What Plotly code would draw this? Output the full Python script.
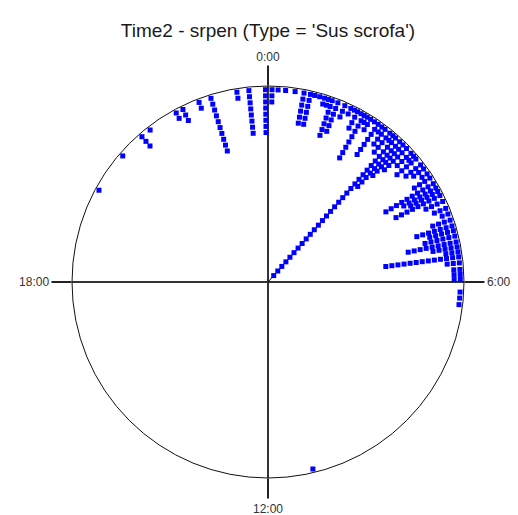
import plotly.graph_objects as go

# clock time (hours) of each dot stack and how many observations fall in it
hours = [11.1, 19.9, 20.73, 21.27, 21.48, 22.1, 22.25, 22.6, 22.85, 23.38, 23.62, 23.95,
         0.08, 0.2, 0.35, 0.54, 0.72, 0.85, 0.94, 1.04, 1.14, 1.22, 1.3, 1.42, 1.57, 1.7,
         1.78, 1.85, 1.93, 2.0, 2.07, 2.15, 2.24, 2.33, 2.42, 2.5, 2.62, 2.7, 2.77, 2.88,
         2.97, 3.07, 3.2, 3.28, 3.35, 3.5, 3.6, 3.72, 3.82, 3.95, 4.05, 4.13, 4.22, 4.35,
         4.5, 4.62, 4.75, 4.87, 4.97, 5.08, 5.2, 5.3, 5.4, 5.5, 5.62, 5.75, 5.85, 5.95,
         6.2, 6.32, 6.45]
counts = [1, 1, 1, 3, 1, 2, 3, 2, 10, 2, 8, 8,
          3, 1, 1, 1, 6, 6, 1, 1, 2, 2, 7, 6, 3, 2,
          1, 4, 1, 9, 2, 3, 1, 7, 2, 4, 5, 2, 31, 11,
          8, 6, 4, 2, 5, 4, 3, 2, 4, 10, 7, 6, 9, 4,
          3, 2, 4, 7, 5, 6, 9, 5, 3, 13, 3, 2, 2, 2,
          1, 1, 1]

mean_hour = 2.77
ci_halfwidth = 0.12  # hours

tick_hours = [0, 6, 12, 18]
tick_labels = ["0:00", "6:00", "12:00", "18:00"]

title = "Time2 - srpen (Type = 'Sus scrofa')"

R = 32  # outer circle, one unit per stacked dot

# stack dots inward from the rim
dot_r, dot_theta = [], []
for h, n in zip(hours, counts):
    for k in range(n):
        dot_r.append(R - 0.6 - k)
        dot_theta.append(h * 15)

fig = go.Figure()

# mean vector
fig.add_trace(go.Scatterpolar(r=[0, R], theta=[mean_hour * 15] * 2, mode="lines",
                              line=dict(color="black", width=1), hoverinfo="skip"))

fig.add_trace(go.Scatterpolar(r=dot_r, theta=dot_theta, mode="markers",
                              marker=dict(symbol="square", size=5, color="#0000ff",
                                          line=dict(width=0))))

# confidence interval marks at the rim
for h in (mean_hour - ci_halfwidth, mean_hour + ci_halfwidth):
    fig.add_trace(go.Scatterpolar(r=[R - 0.2, R + 0.9], theta=[h * 15] * 2, mode="lines",
                                  line=dict(color="black", width=1), cliponaxis=False,
                                  hoverinfo="skip"))
fig.add_trace(go.Scatterpolar(r=[R + 0.9, R + 0.9],
                              theta=[(mean_hour - ci_halfwidth) * 15, (mean_hour + ci_halfwidth) * 15],
                              mode="lines", line=dict(color="black", width=1), cliponaxis=False,
                              hoverinfo="skip"))

W, H = 518, 515

fig.update_layout(
    width=W, height=H,
    margin=dict(l=0, r=0, t=0, b=0),
    paper_bgcolor="white",
    showlegend=False,
    title=dict(text=title, x=268 / W, y=1 - 30 / H,
               xanchor="center", yanchor="middle",
               font=dict(family="Liberation Sans, Arial", size=19, color="#1a1a1a")),
    polar=dict(
        domain=dict(x=[72 / W, 464 / W], y=[1 - 478 / H, 1 - 86 / H]),
        bgcolor="white",
        radialaxis=dict(range=[0, R], visible=False),
        angularaxis=dict(
            rotation=90, direction="clockwise",
            tickvals=[h * 15 for h in tick_hours], ticktext=tick_labels,
            ticks="outside", ticklen=20, tickwidth=1.5, tickcolor="#222",
            showline=True, linecolor="#111", linewidth=1,
            showgrid=True, gridcolor="#333", gridwidth=1.5,
            tickfont=dict(family="Liberation Sans, Arial", size=12, color="#333"),
        ),
    ),
)

# drop the default page margin so the figure fills the window
fig.write_html("out.html", config={"displayModeBar": False},
               post_script="document.body.style.margin='0';")
